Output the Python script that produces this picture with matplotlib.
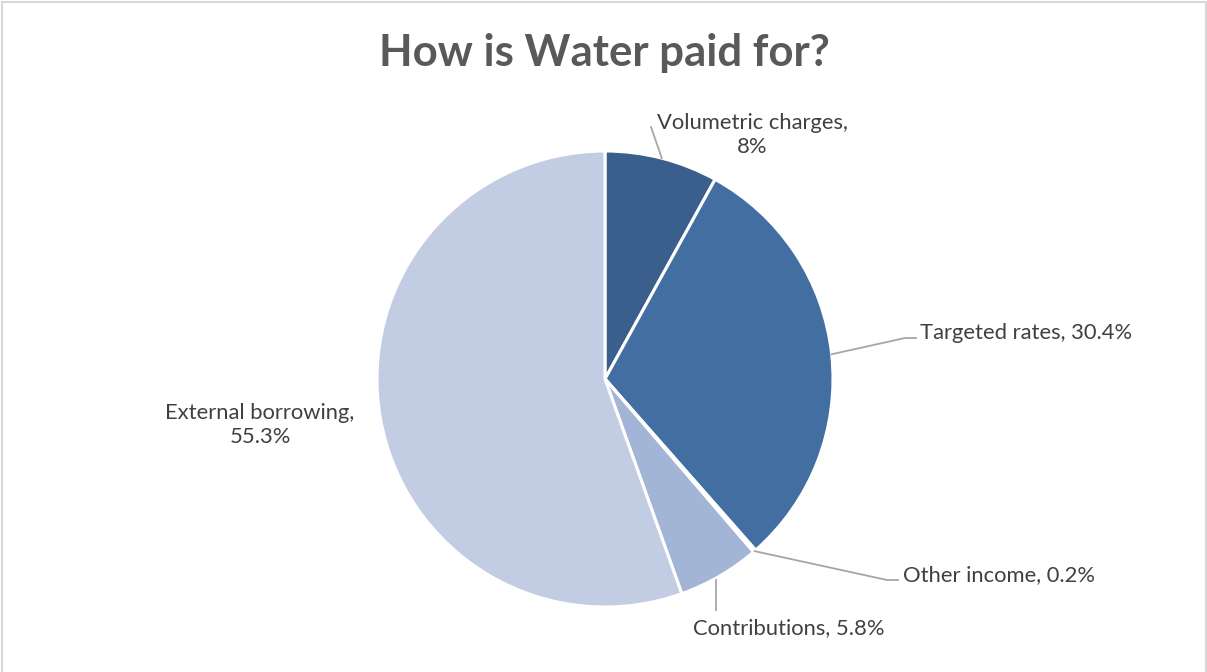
import numpy as np
import matplotlib.pyplot as plt
from matplotlib.patches import Rectangle

plt.rcParams['font.family'] = ['Lato', 'DejaVu Sans']

sources = ["Volumetric charges", "Targeted rates", "Other income", "Contributions", "External borrowing"]
shares = [8.0, 30.4, 0.2, 5.8, 55.3]
label_text = ["Volumetric charges,\n8%", "Targeted rates, 30.4%", "Other income, 0.2%",
              "Contributions, 5.8%", "External borrowing,\n55.3%"]
colors = ["#3A5F8D", "#426EA2", "#5F82B6", "#A3B5D6", "#C2CDE3"]

W, H = 1207, 672
fig = plt.figure(figsize=(W / 100, H / 100), dpi=100)
ax = fig.add_axes([0, 0, 1, 1])

cx, cy, r = 605, H - 379, 228
wedges, _ = ax.pie(shares, colors=colors, startangle=90, counterclock=False,
                   center=(cx, cy), radius=r, frame=True,
                   wedgeprops=dict(edgecolor="white", linewidth=2.2))
ax.set_xlim(0, W)
ax.set_ylim(0, H)
ax.set_aspect("equal")
ax.axis("off")

def edge_point(w):
    a = np.deg2rad((w.theta1 + w.theta2) / 2)
    return cx + r * np.cos(a), cy + r * np.sin(a)

line_kw = dict(color="#A6A6A6", lw=1.3)
txt_kw = dict(fontsize=15.8, color="#404040")

# volumetric charges
x0, y0 = edge_point(wedges[0])
ax.plot([x0, 651], [y0, H - 127], **line_kw)
ax.text(752, H - 135, label_text[0], ha="center", va="center", linespacing=1.3, **txt_kw)

# targeted rates
x0, y0 = edge_point(wedges[1])
ax.plot([x0, 905, 916], [y0, H - 338, H - 338], **line_kw)
ax.text(920, H - 333, label_text[1], ha="left", va="center", **txt_kw)

# other income
x0, y0 = edge_point(wedges[2])
ax.plot([x0, 887, 898], [y0, H - 580, H - 580], **line_kw)
ax.text(903, H - 575, label_text[2], ha="left", va="center", **txt_kw)

# contributions
x0, y0 = edge_point(wedges[3])
ax.plot([716, 716], [H - 580, H - 610], **line_kw)
ax.text(789, H - 628, label_text[3], ha="center", va="center", **txt_kw)

# external borrowing
ax.text(260, H - 425, label_text[4], ha="center", va="center", linespacing=1.3, **txt_kw)

fig.text(604 / W, 1 - 53 / H, "How is Water paid for?", ha="center", va="center",
         fontsize=31.5, fontweight="bold", color="#595959")

fig.patches.append(Rectangle((1.5 / W, -0.05), (W - 3) / W, 1 - 1.5 / H + 0.05,
                             transform=fig.transFigure, fill=False,
                             edgecolor="#D9D9D9", lw=1.5))

fig.savefig("out.png", dpi=100)
